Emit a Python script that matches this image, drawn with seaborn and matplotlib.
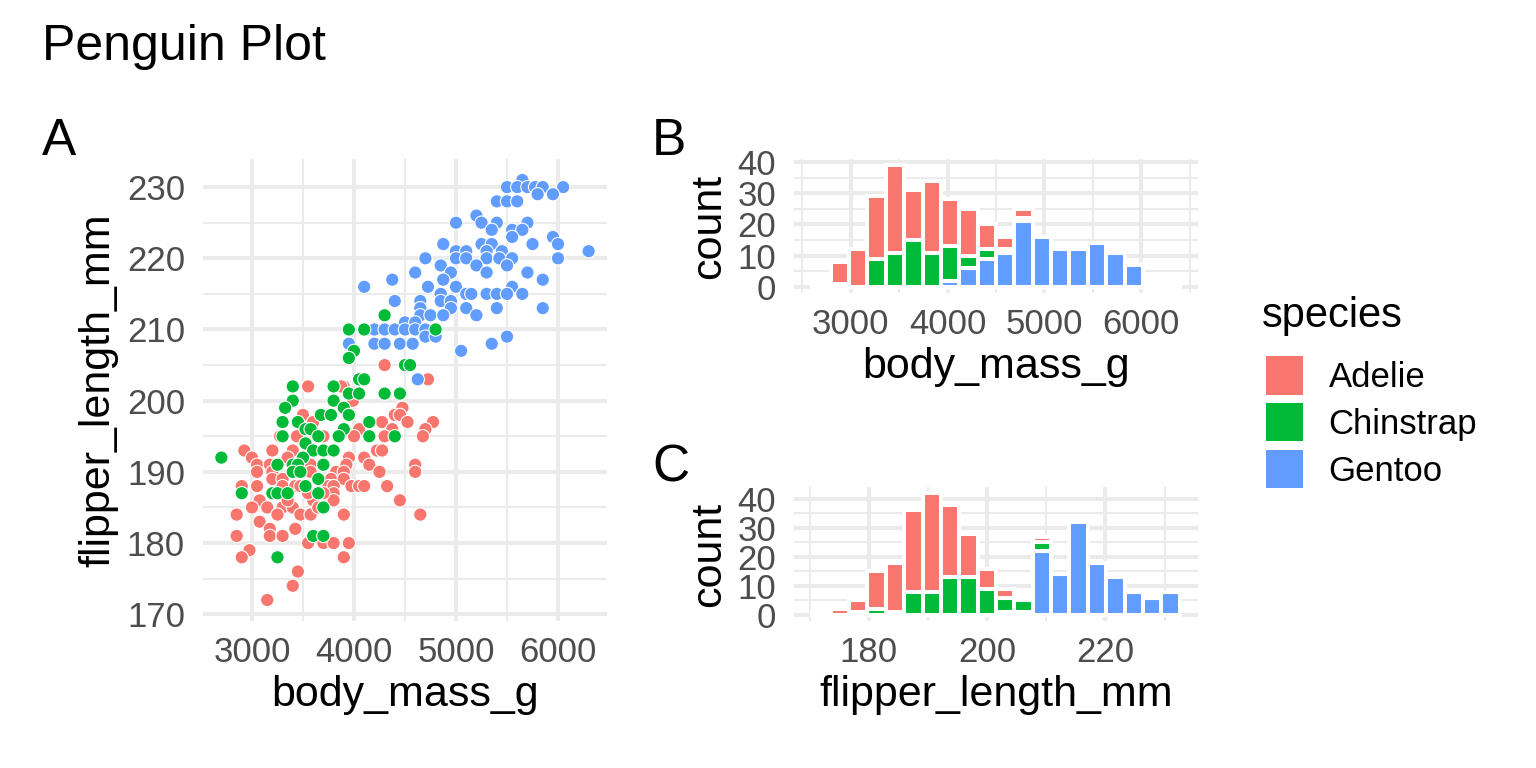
import numpy as np
import pandas as pd
import matplotlib
matplotlib.use("Agg")
import matplotlib.pyplot as plt
import seaborn as sns
from matplotlib.patches import Patch
from matplotlib.ticker import MultipleLocator

species = ["Adelie", "Chinstrap", "Gentoo"]
colors = {"Adelie": "#F8766D", "Chinstrap": "#00BA38", "Gentoo": "#619CFF"}

# scatter points (body_mass_g, flipper_length_mm)
adelie_pts = [
    (3550, 202), (3900, 202), (3875, 202), (3990, 200), (4400, 198), (3500, 198),
    (4275, 197), (4050, 196), (4375, 196), (3275, 195), (3440, 195), (4000, 195),
    (4300, 195), (2925, 193), (3200, 193), (3400, 193), (4225, 193), (4275, 193),
    (3000, 192), (3950, 192), (4100, 192), (3050, 191), (3175, 191), (3575, 191),
    (3925, 191), (4150, 191), (3050, 190), (3200, 190), (3575, 190), (3825, 190),
    (3900, 190), (4250, 190), (3200, 189), (3300, 189), (3775, 189), (3900, 189),
    (3050, 188), (3300, 188), (3425, 188), (3750, 188), (3975, 188), (4050, 188),
    (4325, 188), (2900, 188), (3475, 188), (3800, 188), (4100, 188), (3075, 186),
    (3000, 185), (3150, 185), (3300, 185), (3400, 185), (3475, 184), (3575, 184),
    (3800, 187), (3800, 186), (2850, 184), (3900, 184), (4450, 186), (3075, 183),
    (3175, 182), (3175, 181), (3300, 181), (3425, 182), (2850, 181), (3550, 180),
    (3700, 180), (3800, 180), (3950, 180), (2975, 179), (2900, 178), (3900, 178),
    (3450, 176), (3400, 174), (3150, 172), (4300, 205), (4475, 199), (4450, 198),
    (4525, 197), (4775, 197), (4700, 196), (4675, 195), (4600, 191), (4600, 190),
    (4650, 184), (4725, 203), (3600, 186), (3650, 185), (3700, 187), (3350, 186),
    (3250, 184), (3550, 187), (3450, 190), (3350, 192), (3700, 195), (3600, 197),
]
gentoo_pts = [
    (5650, 231), (5500, 230), (5600, 230), (5700, 230), (5775, 230), (5850, 230),
    (6050, 230), (5800, 229), (5950, 229), (5400, 228), (5500, 228), (5600, 228),
    (5200, 226), (5000, 225), (5250, 225), (5400, 225), (5700, 225), (5350, 224),
    (5550, 224), (5650, 224), (5550, 223), (5950, 223), (6000, 222), (5750, 222),
    (4875, 222), (5250, 222), (5350, 222), (5000, 221), (5100, 221), (5300, 221),
    (5450, 221), (6300, 221), (4700, 220), (5000, 220), (5100, 220), (5300, 220),
    (5425, 220), (5550, 220), (6000, 220), (4850, 219), (5200, 219), (5500, 219),
    (4600, 218), (4950, 218), (5300, 218), (5700, 218), (5850, 217), (4375, 217),
    (4875, 217), (4100, 216), (4725, 216), (5000, 216), (5550, 216), (4850, 215),
    (5100, 215), (5150, 215), (5300, 215), (5400, 215), (5500, 215), (5650, 215),
    (4400, 214), (4650, 214), (4850, 214), (4950, 214), (4650, 213), (4950, 213),
    (5100, 213), (5400, 213), (5850, 213), (4650, 212), (4750, 212), (4875, 212),
    (5200, 212), (4500, 211), (4600, 211), (4200, 210), (4300, 210), (4400, 210),
    (4500, 210), (4600, 210), (4700, 210), (4700, 209), (4800, 209), (5500, 209),
    (3950, 208), (4200, 208), (4300, 208), (4450, 208), (4575, 208), (5350, 208),
    (5050, 207), (4625, 203),
]
chinstrap_pts = [
    (4050, 203), (4100, 203), (3400, 202), (3800, 202), (4300, 201), (3950, 201),
    (4050, 201), (4450, 201), (3400, 200), (3800, 200), (3325, 199), (3900, 199),
    (3675, 198), (3775, 198), (3950, 198), (3300, 197), (3450, 197), (4150, 197),
    (3525, 196), (3575, 196), (3900, 196), (3300, 195), (3650, 195), (3850, 195),
    (4150, 195), (4400, 195), (3525, 194), (3600, 193), (3700, 193), (3800, 193),
    (2700, 192), (3500, 192), (3250, 191), (3400, 191), (3450, 191), (3700, 191),
    (3400, 190), (3475, 190), (3650, 189), (3525, 188), (2900, 187), (3200, 187),
    (3250, 187), (3350, 187), (3650, 187), (3700, 185), (3600, 181), (3700, 181),
    (3250, 178), (3950, 210), (4100, 210), (4800, 210), (4300, 212), (4000, 207),
    (3950, 206), (4500, 205), (4550, 205),
]

mass_bins = [2700, 2889, 3079, 3268, 3458, 3647, 3837, 4026, 4216, 4405,
             4595, 4784, 4974, 5163, 5353, 5542, 5732, 5921, 6111, 6300]
mass_adelie = [0, 7, 12, 20, 28, 16, 23, 15, 15, 8, 4, 3, 0, 0, 0, 0, 0, 0, 0, 0]
mass_chinstrap = [1, 1, 0, 9, 11, 15, 11, 11, 4, 3, 1, 1, 0, 0, 0, 0, 0, 0, 0, 0]
mass_gentoo = [0, 0, 0, 0, 0, 0, 0, 2, 6, 9, 11, 21, 16, 12, 12, 14, 11, 7, 1, 1]

flipper_bins = [172, 175.1, 178.2, 181.3, 184.4, 187.5, 190.6, 193.7, 196.8, 199.9,
                203.1, 206.2, 209.3, 212.4, 215.5, 218.6, 221.7, 224.8, 227.9, 231]
flipper_adelie = [1, 2, 4, 13, 17, 28, 34, 25, 15, 7, 3, 0, 2, 0, 0, 0, 0, 0, 0, 0]
flipper_chinstrap = [0, 0, 1, 2, 1, 8, 8, 13, 13, 9, 5, 4, 3, 0, 0, 0, 0, 0, 0, 0]
flipper_gentoo = [0, 0, 0, 0, 0, 0, 0, 0, 0, 0, 1, 1, 22, 14, 32, 18, 13, 8, 6, 8]


sns.set_style("white")
plt.rcParams["font.family"] = ["Liberation Sans", "DejaVu Sans"]
plt.rcParams["text.color"] = "black"
plt.rcParams["axes.labelcolor"] = "black"

W, H = 1536, 768
fig = plt.figure(figsize=(W / 100, H / 100), dpi=100)


def px_axes(left, top, right, bottom):
    return fig.add_axes([left / W, 1 - bottom / H, (right - left) / W, (bottom - top) / H])


def expand(lo, hi, frac=0.05):
    d = (hi - lo) * frac
    return lo - d, hi + d


def style(ax, xmaj, xmin, ymaj, ymin):
    ax.xaxis.set_major_locator(MultipleLocator(xmaj))
    ax.xaxis.set_minor_locator(MultipleLocator(xmin))
    ax.yaxis.set_major_locator(MultipleLocator(ymaj))
    ax.yaxis.set_minor_locator(MultipleLocator(ymin))
    ax.grid(which="major", color="#EBEBEB", linewidth=2.9)
    ax.grid(which="minor", color="#EBEBEB", linewidth=1.45)
    ax.set_axisbelow(True)
    for s in ax.spines.values():
        s.set_visible(False)
    ax.tick_params(which="both", length=0, labelsize=25, labelcolor="#4D4D4D")
    ax.tick_params(axis="x", pad=11)
    ax.tick_params(axis="y", pad=13)


def stacked_hist(ax, centers, counts, xlabel):
    w = (centers[-1] - centers[0]) / (len(centers) - 1)
    edges = np.linspace(centers[0] - w / 2, centers[-1] + w / 2, len(centers) + 1)
    df = pd.DataFrame({
        "x": np.tile(centers, 3),
        "n": np.concatenate(counts),
        "species": np.repeat(species, len(centers)),
    })
    sns.histplot(data=df, x="x", weights="n", hue="species", hue_order=species,
                 palette=colors, multiple="stack", bins=list(edges), alpha=1,
                 edgecolor="white", linewidth=2.9, legend=False, ax=ax)
    totals = np.sum(counts, axis=0)
    ax.set_xlim(*expand(edges[0], edges[-1]))
    ax.set_ylim(*expand(0, totals.max()))
    ax.set_xlabel(xlabel, fontsize=31, labelpad=4)
    ax.set_ylabel("count", fontsize=31, labelpad=6)


# panel A
pts = pd.DataFrame(
    [p + ("Adelie",) for p in adelie_pts]
    + [p + ("Gentoo",) for p in gentoo_pts]
    + [p + ("Chinstrap",) for p in chinstrap_pts],
    columns=["body_mass_g", "flipper_length_mm", "species"],
)
axA = px_axes(203, 159, 607, 621)
sns.scatterplot(data=pts, x="body_mass_g", y="flipper_length_mm", hue="species",
                palette=colors, s=92, edgecolor="white", linewidth=0.8,
                legend=False, ax=axA)
axA.set_xlim(*expand(pts.body_mass_g.min(), pts.body_mass_g.max()))
axA.set_ylim(*expand(pts.flipper_length_mm.min(), pts.flipper_length_mm.max()))
style(axA, 1000, 500, 10, 5)
axA.set_xlabel("body_mass_g", fontsize=31, labelpad=4)
axA.set_ylabel("flipper_length_mm", fontsize=31, labelpad=6)

# panel B
axB = px_axes(794, 159, 1198, 293)
stacked_hist(axB, mass_bins, [mass_adelie, mass_chinstrap, mass_gentoo], "body_mass_g")
style(axB, 1000, 500, 10, 5)

# panel C
axC = px_axes(794, 487, 1198, 621)
stacked_hist(axC, flipper_bins, [flipper_adelie, flipper_chinstrap, flipper_gentoo],
             "flipper_length_mm")
style(axC, 20, 10, 10, 5)

# titles and tags
fig.text(42 / W, 1 - 60 / H, "Penguin Plot", fontsize=36, va="baseline")
fig.text(42 / W, 1 - 155 / H, "A", fontsize=37, va="baseline")
fig.text(652 / W, 1 - 155 / H, "B", fontsize=37, va="baseline")
fig.text(652 / W, 1 - 482 / H, "C", fontsize=37, va="baseline")

# legend
fig.text(1262 / W, 1 - 327 / H, "species", fontsize=30, va="baseline")
handles = [Patch(facecolor=colors[sp], edgecolor="none") for sp in species]
fig.legend(handles, species, loc="upper left", bbox_to_anchor=(1266 / W, 1 - 356 / H),
           frameon=False, fontsize=25, handlelength=1.06, handleheight=1.33,
           handletextpad=0.74, labelspacing=0.24, borderpad=0, borderaxespad=0)

fig.savefig("out.png", dpi=100)
